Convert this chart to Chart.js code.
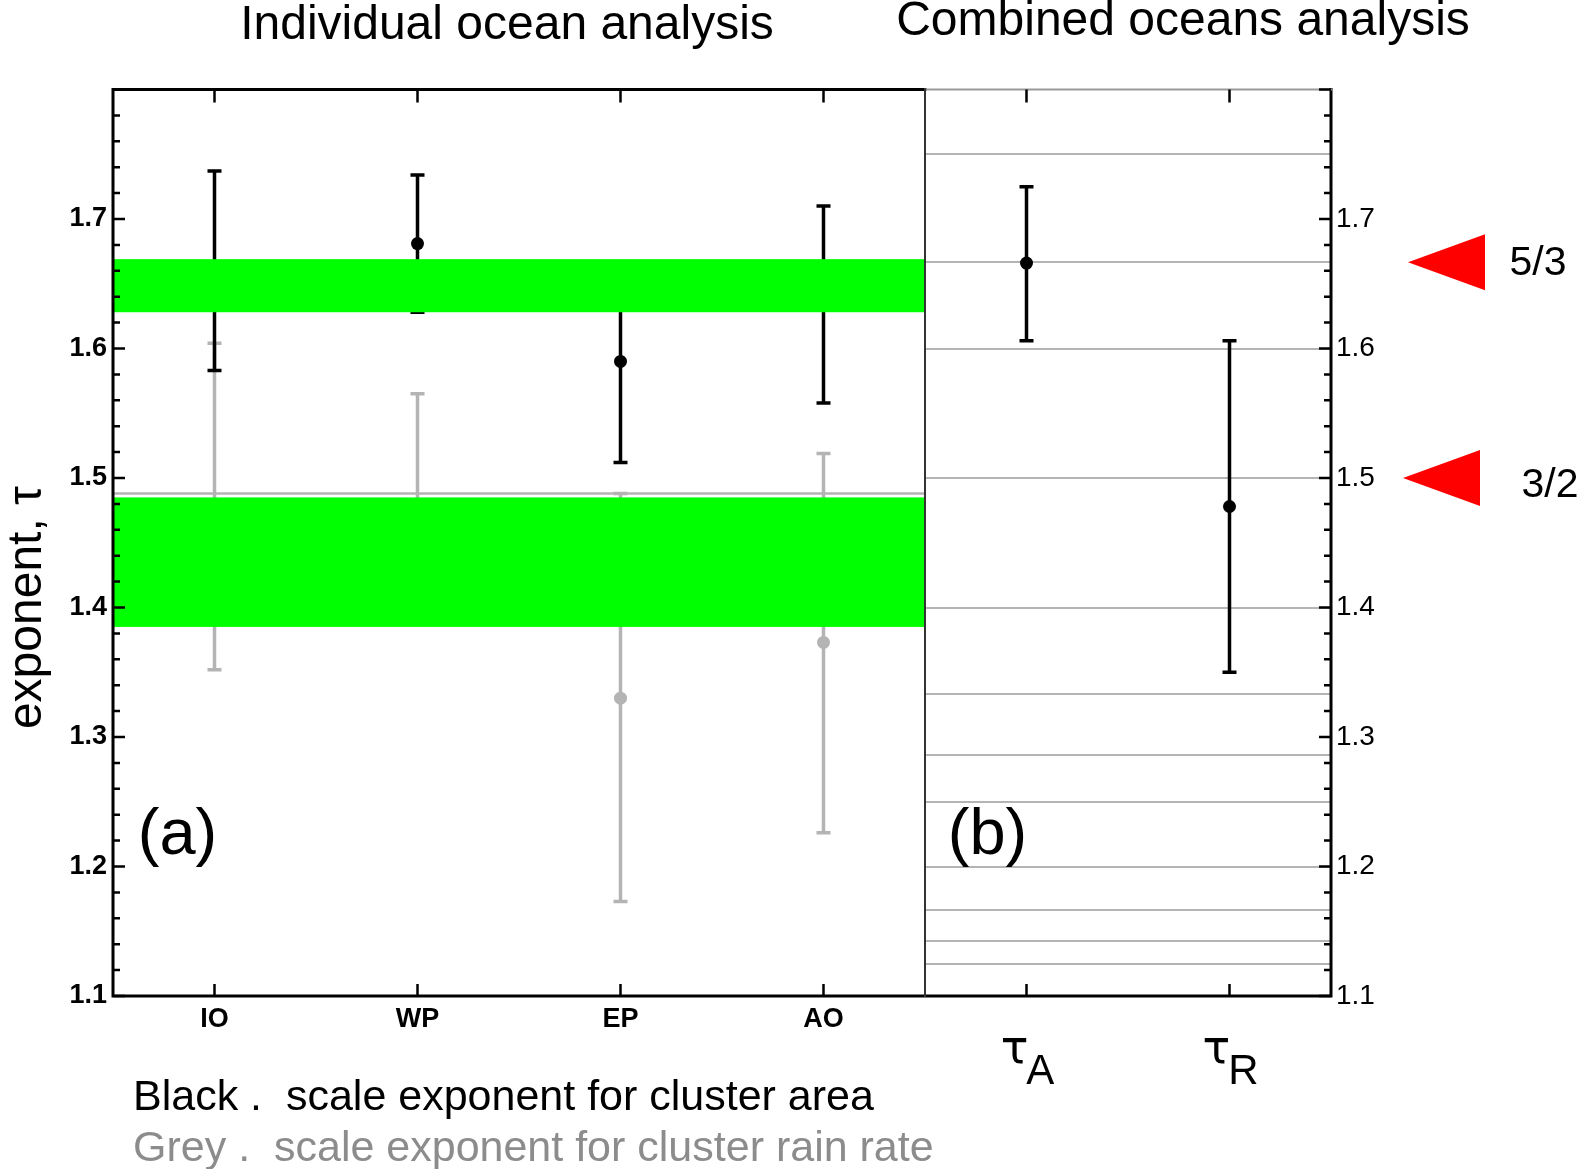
<!DOCTYPE html>
<html>
<head>
<meta charset="utf-8">
<script src="https://cdn.jsdelivr.net/npm/chart.js@4.4.1/dist/chart.umd.min.js"></script>
<style>
body { margin: 0; background: #fff; }
canvas { display: block; }
</style>
</head>
<body>
<canvas id="tau-chart" width="1583" height="1169"></canvas>
<script>
// categories: 4 oceans (panel a) + combined exponents (panel b)
const categories = ['IO', 'WP', 'EP', 'AO', 'τA', 'τR'];

// black = cluster area exponent
const blackMid  = [1.660, 1.681, 1.590, 1.634, 1.666, 1.478];
const blackLow  = [1.583, 1.628, 1.512, 1.558, 1.606, 1.350];
const blackHigh = [1.737, 1.734, 1.667, 1.710, 1.725, 1.606];

// grey = cluster rain rate exponent
const greyMid  = [1.478, 1.480, 1.330, 1.373, null, null];
const greyLow  = [1.352, 1.395, 1.173, 1.226, null, null];
const greyHigh = [1.604, 1.565, 1.488, 1.519, null, null];

// green bands in panel a
const bandUpper = [1.628, 1.669];
const bandLower = [1.385, 1.485];
const greyLineA = 1.488;

// rational reference lines in panel b
const fractionLines = [7/4, 5/3, 8/5, 3/2, 7/5, 4/3, 9/7, 5/4, 6/5, 7/6, 8/7, 9/8];

// red arrow markers
const markerLabels = ['5/3', '3/2'];
const markerValues = [5/3, 3/2];

const yTicks = [1.1, 1.2, 1.3, 1.4, 1.5, 1.6, 1.7];

const FONT = 'Liberation Sans, Arial, Helvetica, sans-serif';
const TAU_FONT = 'DejaVu Sans, sans-serif';
const GREY = '#b4b4b4';

const drawBars = (chart, lows, highs, color) => {
    const {ctx, scales: {x, y}} = chart;
    ctx.save();
    ctx.strokeStyle = color;
    ctx.lineWidth = 3.5;
    lows.forEach((lo, i) => {
        if (lo == null) return;
        const px = x.getPixelForValue(i);
        const y1 = y.getPixelForValue(lo);
        const y2 = y.getPixelForValue(highs[i]);
        ctx.beginPath();
        ctx.moveTo(px, y1); ctx.lineTo(px, y2);
        ctx.moveTo(px - 7, y1); ctx.lineTo(px + 7, y1);
        ctx.moveTo(px - 7, y2); ctx.lineTo(px + 7, y2);
        ctx.stroke();
    });
    ctx.restore();
};

const dividerX = (x) => (x.getPixelForValue(3) + x.getPixelForValue(4)) / 2;

const decorations = {
    id: 'decorations',
    beforeDatasetsDraw(chart) {
        const {ctx, chartArea, scales: {x, y}} = chart;
        const divX = dividerX(x);
        ctx.save();
        ctx.strokeStyle = GREY;
        ctx.lineWidth = 2;
        fractionLines.forEach(v => {
            const py = Math.round(y.getPixelForValue(v));
            ctx.beginPath();
            ctx.moveTo(divX, py);
            ctx.lineTo(chartArea.right, py);
            ctx.stroke();
        });
        ctx.restore();
        drawBars(chart, greyLow, greyHigh, GREY);
        drawBars(chart, blackLow, blackHigh, '#000');
    },
    afterDatasetsDraw(chart) {
        const {ctx, chartArea, scales: {x, y}} = chart;
        const divX = dividerX(x);
        ctx.save();
        // grey line above lower band
        ctx.strokeStyle = GREY;
        ctx.lineWidth = 2.5;
        const gy = y.getPixelForValue(greyLineA);
        ctx.beginPath();
        ctx.moveTo(chartArea.left, gy);
        ctx.lineTo(divX, gy);
        ctx.stroke();
        // green bands
        ctx.fillStyle = '#00ff00';
        [bandUpper, bandLower].forEach(b => {
            const top = y.getPixelForValue(b[1]);
            const bot = y.getPixelForValue(b[0]);
            ctx.fillRect(chartArea.left, top, divX - chartArea.left, bot - top);
        });
        ctx.restore();
    },
    afterDraw(chart) {
        const {ctx, chartArea, scales: {x, y}} = chart;
        const {left, right, top, bottom} = chartArea;
        const divX = dividerX(x);
        ctx.save();

        // frame
        ctx.lineCap = 'square';
        ctx.strokeStyle = '#000';
        ctx.lineWidth = 3;
        ctx.beginPath();
        ctx.moveTo(divX, top); ctx.lineTo(left, top); ctx.lineTo(left, bottom);
        ctx.lineTo(right, bottom); ctx.lineTo(right, top);
        ctx.stroke();
        ctx.strokeStyle = '#999';
        ctx.lineWidth = 2;
        ctx.beginPath();
        ctx.moveTo(divX, top); ctx.lineTo(right, top);
        ctx.stroke();
        ctx.strokeStyle = '#333';
        ctx.lineWidth = 2;
        ctx.beginPath();
        ctx.moveTo(divX, top); ctx.lineTo(divX, bottom);
        ctx.stroke();

        // y ticks, inward
        ctx.lineCap = 'butt';
        ctx.strokeStyle = '#000';
        ctx.lineWidth = 2.5;
        for (let k = 0; k <= 35; k++) {
            const v = 1.1 + k * 0.02;
            const py = y.getPixelForValue(v);
            const len = k % 5 === 0 ? 12 : 7;
            ctx.beginPath();
            ctx.moveTo(left, py); ctx.lineTo(left + len, py);
            ctx.moveTo(right, py); ctx.lineTo(right - len, py);
            ctx.stroke();
        }
        // x ticks, inward top and bottom
        categories.forEach((c, i) => {
            const px = x.getPixelForValue(i);
            ctx.beginPath();
            ctx.moveTo(px, bottom); ctx.lineTo(px, bottom - 12);
            ctx.moveTo(px, top); ctx.lineTo(px, top + 13);
            ctx.stroke();
        });

        // tau labels with subscripts
        ctx.fillStyle = '#000';
        ctx.textBaseline = 'alphabetic';
        ctx.textAlign = 'left';
        categories.forEach((c, i) => {
            if (c[0] !== 'τ') return;
            const px = x.getPixelForValue(i);
            ctx.font = `46px ${TAU_FONT}`;
            const w1 = ctx.measureText('τ').width;
            ctx.font = `42px ${FONT}`;
            const w2 = ctx.measureText(c.slice(1)).width;
            const x0 = px - (w1 + w2 - 2) / 2 + 1;
            ctx.font = `46px ${TAU_FONT}`;
            ctx.fillText('τ', x0, bottom + 67);
            ctx.font = `42px ${FONT}`;
            ctx.fillText(c.slice(1), x0 + w1 - 2, bottom + 88);
        });

        // y axis title
        ctx.save();
        ctx.translate(28, y.getPixelForValue(1.4));
        ctx.rotate(-Math.PI / 2);
        ctx.textAlign = 'center';
        ctx.textBaseline = 'middle';
        ctx.font = `48px ${FONT}`;
        ctx.fillText('exponent, τ', 0, 0);
        ctx.restore();

        // panel titles
        ctx.textAlign = 'center';
        ctx.textBaseline = 'middle';
        ctx.font = `48px ${FONT}`;
        ctx.fillText('Individual ocean analysis', (left + divX) / 2 - 12, 26);
        ctx.fillText('Combined oceans analysis', (divX + right) / 2 + 55, 22);

        // panel letters
        ctx.font = `65px ${FONT}`;
        ctx.textBaseline = 'alphabetic';
        ctx.fillText('(a)', x.getPixelForValue(0) - 37, y.getPixelForValue(1.21));
        ctx.fillText('(b)', x.getPixelForValue(4) - 39, y.getPixelForValue(1.21));

        // red markers
        ctx.font = `41px ${FONT}`;
        ctx.textBaseline = 'middle';
        markerValues.forEach((v, i) => {
            const py = y.getPixelForValue(v);
            const tip = i === 0 ? 77 : 72;
            ctx.fillStyle = '#ff0000';
            ctx.beginPath();
            ctx.moveTo(right + tip, py);
            ctx.lineTo(right + tip + 77, py - 28);
            ctx.lineTo(right + tip + 77, py + 28);
            ctx.closePath();
            ctx.fill();
            ctx.fillStyle = '#000';
            ctx.fillText(markerLabels[i], right + (i === 0 ? 207 : 219), py + (i === 0 ? 2 : 8));
        });

        // notes under the chart
        ctx.textAlign = 'left';
        ctx.font = `43px ${FONT}`;
        ctx.fillStyle = '#000';
        ctx.fillText('Black .  scale exponent for cluster area', 133, 1098);
        ctx.fillStyle = '#8c8c8c';
        ctx.fillText('Grey .  scale exponent for cluster rain rate', 133, 1149);
        ctx.restore();
    }
};

const ctx = document.getElementById('tau-chart').getContext('2d');
const chart = new Chart(ctx, {
    type: 'line',
    data: {
        labels: categories,
        datasets: [
            {
                label: 'Black',
                data: blackMid,
                showLine: false,
                pointRadius: 6.5,
                pointBorderWidth: 0,
                pointBackgroundColor: '#000',
                yAxisID: 'y'
            },
            {
                label: 'Grey',
                data: greyMid,
                showLine: false,
                pointRadius: 6.5,
                pointBorderWidth: 0,
                pointBackgroundColor: GREY,
                yAxisID: 'y'
            }
        ]
    },
    options: {
        responsive: false,
        devicePixelRatio: 1,
        animation: false,
        layout: { padding: { top: 89.5, left: 0, right: 0, bottom: 0 } },
        plugins: { legend: { display: false }, tooltip: { enabled: false } },
        scales: {
            x: {
                type: 'category',
                offset: true,
                grid: { display: false, drawTicks: false },
                border: { display: false },
                ticks: {
                    padding: 7,
                    color: '#000',
                    font: { family: FONT, size: 27, weight: 'bold' },
                    maxRotation: 0,
                    callback: (v, i) => categories[i][0] === 'τ' ? '' : categories[i]
                },
                afterFit: s => { s.height = 173; }
            },
            y: {
                position: 'left',
                min: 1.1,
                max: 1.8,
                afterBuildTicks: s => { s.ticks = yTicks.map(v => ({ value: v })); },
                grid: { display: false, drawTicks: false },
                border: { display: false },
                ticks: {
                    padding: 6,
                    color: '#000',
                    font: { family: FONT, size: 27, weight: 'bold' },
                    callback: v => v.toFixed(1)
                },
                afterFit: s => { s.width = 113; }
            },
            y2: {
                position: 'right',
                min: 1.1,
                max: 1.8,
                afterBuildTicks: s => { s.ticks = yTicks.map(v => ({ value: v })); },
                grid: { display: false, drawTicks: false },
                border: { display: false },
                ticks: {
                    padding: 5,
                    color: '#000',
                    font: { family: FONT, size: 28 },
                    callback: v => v.toFixed(1)
                },
                afterFit: s => { s.width = 252; }
            }
        }
    },
    plugins: [decorations]
});
</script>
</body>
</html>
